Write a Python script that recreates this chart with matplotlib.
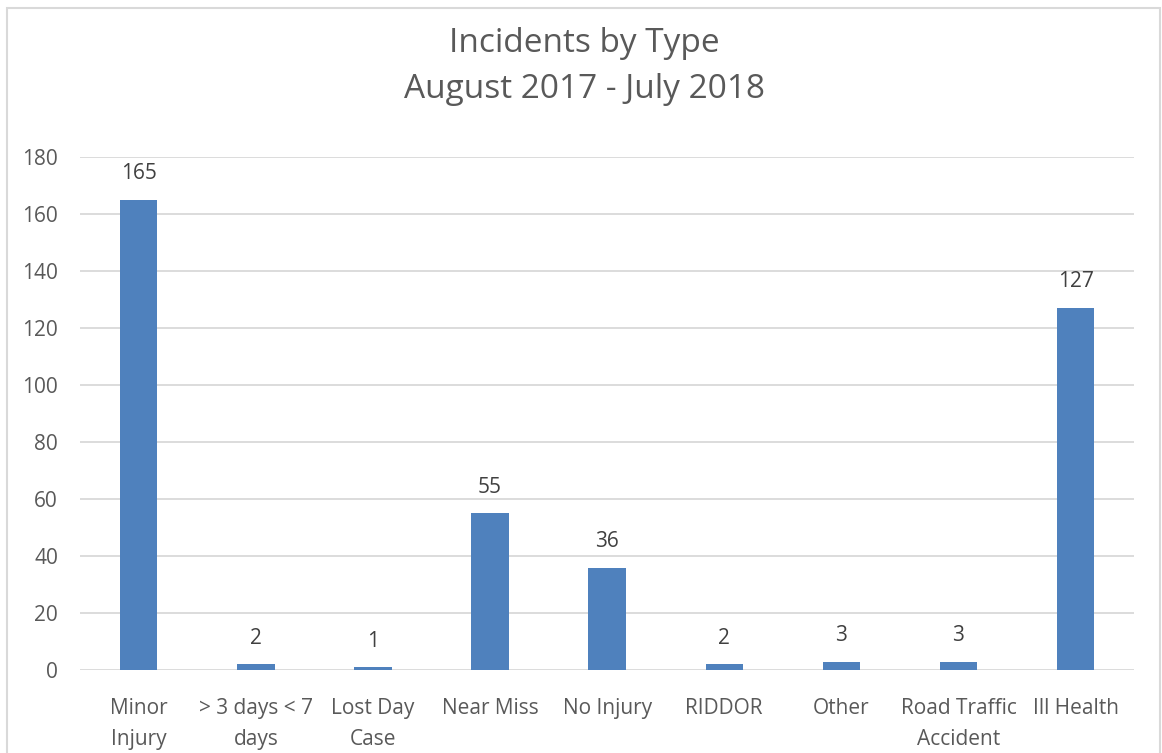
import matplotlib
matplotlib.use('Agg')
import matplotlib.pyplot as plt
from matplotlib.patches import Rectangle

categories = ['Minor\nInjury', '> 3 days < 7\ndays', 'Lost Day\nCase', 'Near Miss', 'No Injury',
              'RIDDOR', 'Other', 'Road Traffic\nAccident', 'Ill Health']
counts = [165, 2, 1, 55, 36, 2, 3, 3, 127]
yticks = [0, 20, 40, 60, 80, 100, 120, 140, 160, 180]

text_col = '#595959'
plt.rcParams['font.family'] = ['Open Sans', 'DejaVu Sans']

fig = plt.figure(figsize=(11.62, 7.53), dpi=100)
ax = fig.add_axes([0.069, 0.110, 0.907, 0.6815])

x = list(range(len(categories)))
bars = ax.bar(x, counts, width=0.32, color='#4f81bd', zorder=3)
for xi, v in zip(x, counts):
    ax.text(xi, v + 5.5, str(v), ha='center', va='bottom', fontsize=15, color='#404040')

ax.set_xlim(-0.5, len(categories) - 0.5)
ax.set_ylim(0, 180)
ax.set_yticks(yticks)
ax.set_xticks(x)
ax.set_xticklabels(categories, fontsize=15, color=text_col, linespacing=1.65)
ax.tick_params(axis='y', labelsize=15, labelcolor=text_col, length=0, pad=16)
ax.tick_params(axis='x', length=0, pad=20)
ax.yaxis.grid(True, color='#d9d9d9', linewidth=1.3, zorder=0)
for s in ax.spines.values():
    s.set_visible(False)

fig.text(0.503, 0.912, 'Incidents by Type\nAugust 2017 - July 2018', ha='center', va='center',
         fontsize=24, color=text_col, linespacing=1.5)

fig.patches.append(Rectangle((0.006, -0.01), 0.992, 1.0, transform=fig.transFigure,
                             fill=False, edgecolor='#d9d9d9', linewidth=1.5))

fig.savefig('out.png', dpi=100, facecolor='white')
